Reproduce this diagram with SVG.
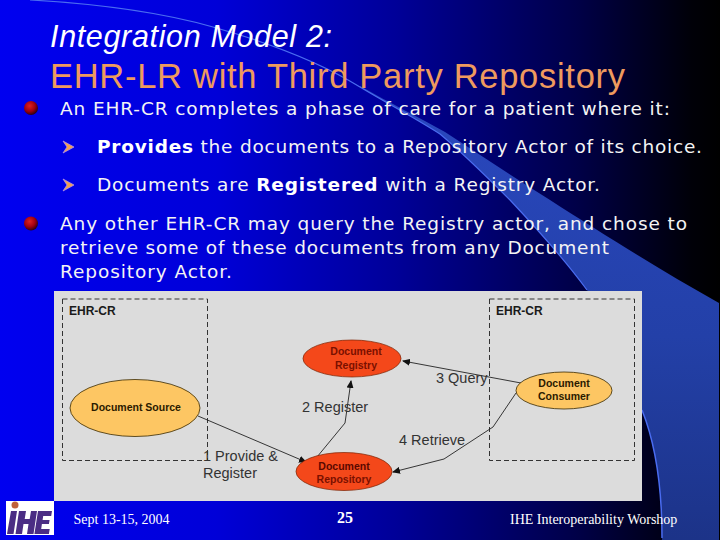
<svg xmlns="http://www.w3.org/2000/svg" width="720" height="540" viewBox="0 0 720 540">
<style>
.b{font-family:"DejaVu Sans",Verdana,sans-serif;font-size:18.500px;fill:#f4f4f4}
.bb{font-weight:bold;fill:#fff}
.f{font-family:"Liberation Serif",serif;font-size:14px;fill:#fff}
.lbl{font-family:"Liberation Sans",Arial,sans-serif;font-size:14.500px;fill:#333}
.nt{font-family:"Liberation Sans",Arial,sans-serif;font-size:10.500px;font-weight:bold;text-anchor:middle}
.hd{font-family:"Liberation Sans",Arial,sans-serif;font-size:12px;font-weight:bold;fill:#1a1a1a}
.box{fill:none;stroke:#333;stroke-width:1;stroke-dasharray:5 3}
.c{fill:none;stroke:#222;stroke-width:.9}
.red{fill:#f4481a;stroke:#7a2000;stroke-width:.7}
.or{fill:#fdc663;stroke:#3a2a00;stroke-width:.8}
.ar{fill:#f0a050;stroke:#b090e8;stroke-width:.8}
</style>
<defs>
<linearGradient id="bg" x1="0" x2="1" y1="0" y2="0">
<stop offset="0" stop-color="#0000f0"/><stop offset=".3" stop-color="#0000d8"/><stop offset=".55" stop-color="#000098"/><stop offset=".8" stop-color="#000048"/><stop offset=".96" stop-color="#000008"/><stop offset="1" stop-color="#000"/>
</linearGradient>
<linearGradient id="band" x1="0" x2="0" y1="0" y2="1"><stop offset="0" stop-color="#2a48c0"/><stop offset=".55" stop-color="#2340a8"/><stop offset="1" stop-color="#1c3388"/></linearGradient>
<radialGradient id="ball" cx=".4" cy=".35" r=".65"><stop offset="0" stop-color="#e02020"/><stop offset=".6" stop-color="#a00010"/><stop offset="1" stop-color="#300010"/></radialGradient>
<marker id="a" markerWidth="8" markerHeight="7" refX="7" refY="3.500" orient="auto" markerUnits="userSpaceOnUse"><path d="M0 0L8 3.500L0 7z" fill="#111"/></marker>
</defs>
<rect width="720" height="540" fill="url(#bg)"/>
<g id="swoosh">
<path d="M360 86C390 103 420 118 445 132C480 155 515 178 550 200C600 232 660 270 719 303V540H662C662 500 658 450 642 410C628 370 608 320 587 290C565 260 540 232 510 200C490 180 465 155 440 134C415 118 390 105 360 87Z" fill="url(#band)"/>
<path d="M30 0C100 4 160 12 213 27C270 43 320 62 360 87C390 105 415 118 440 134C465 155 490 180 510 200C540 232 565 260 587 290" fill="none" stroke="#4a6cf0" stroke-width="1.200"/>
<path d="M642 410C658 450 662 500 662 538" fill="none" stroke="#4a6cf0" stroke-width="1.500"/>
</g>
<g id="title">
<text x="50" y="47" font-family="Liberation Sans,Arial,sans-serif" font-size="30.500" font-style="italic" fill="#fff" textLength="282">Integration Model 2:</text>
<text x="50" y="88" font-family="Liberation Sans,Arial,sans-serif" font-size="34.500" fill="#ee9a5e" textLength="575">EHR-LR with Third Party Repository</text>
</g>
<g id="bullets">
<circle cx="31" cy="108" r="7" fill="url(#ball)"/>
<circle cx="31" cy="223.500" r="7" fill="url(#ball)"/>
<path class="ar" d="M63 141L74 147L63 153L67 147Z"/>
<path class="ar" d="M63 179L74 185L63 191L67 185Z"/>
<text class="b" x="60" y="115" textLength="610">An EHR-CR completes a phase of care for a patient where it:</text>
<text class="b" x="97" y="153" textLength="605"><tspan class="bb">Provides</tspan> the documents to a Repository Actor of its choice.</text>
<text class="b" x="97" y="191" textLength="503">Documents are <tspan class="bb">Registered</tspan> with a Registry Actor.</text>
<text class="b" x="60" y="230" textLength="627">Any other EHR-CR may query the Registry actor, and chose to</text>
<text class="b" x="60" y="254" textLength="549">retrieve some of these documents from any Document</text>
<text class="b" x="60" y="278" textLength="172">Repository Actor.</text>
</g>
<rect id="panel" x="54" y="291" width="588" height="210" fill="#dcdcdc"/>
<g id="ehr-cr-left"><rect class="box" x="62.500" y="299" width="145" height="161.500"/><text class="hd" x="69" y="315">EHR-CR</text></g>
<g id="ehr-cr-right"><rect class="box" x="489.500" y="299" width="145" height="161.500"/><text class="hd" x="496" y="315">EHR-CR</text></g>
<g id="connectors">
<path class="c" marker-end="url(#a)" d="M198 416L306 462"/>
<path class="c" marker-end="url(#a)" d="M317 457L345 423L351 381"/>
<path class="c" marker-end="url(#a)" d="M521 383L403 361"/>
<path class="c" marker-end="url(#a)" d="M516 393L493 427L444 459L393 472"/>
</g>
<g id="document-source"><ellipse class="or" cx="135" cy="408" rx="65" ry="28.500"/><text class="nt" x="136" y="411" fill="#2a1a00">Document Source</text></g>
<g id="document-registry"><ellipse class="red" cx="352" cy="358.500" rx="49" ry="18.500"/><text class="nt" x="356" y="355" fill="#7a1000">Document</text><text class="nt" x="356" y="369" fill="#7a1000">Registry</text></g>
<g id="document-repository"><ellipse class="red" cx="344" cy="471.500" rx="48" ry="19"/><text class="nt" x="344" y="470" fill="#5a0800">Document</text><text class="nt" x="344" y="483" fill="#7a1000">Repository</text></g>
<g id="document-consumer"><ellipse class="or" cx="564" cy="390.500" rx="48" ry="18.500"/><text class="nt" x="564" y="387" fill="#2a1a00">Document</text><text class="nt" x="564" y="400" fill="#2a1a00">Consumer</text></g>
<g id="labels">
<text class="lbl" x="203" y="461">1 Provide &amp;</text>
<text class="lbl" x="203" y="478">Register</text>
<text class="lbl" x="302" y="412">2 Register</text>
<text class="lbl" x="436" y="383">3 Query</text>
<text class="lbl" x="399" y="445">4 Retrieve</text>
</g>
<g id="logo">
<rect x="6" y="501" width="48" height="34" fill="#fff"/>
<circle cx="15" cy="505" r="3.500" fill="#c0603a"/>
<path fill="#4b2d84" d="M11 511h6l-3.500 23h-6.500zM19 511h7l-1.300 8h5l1.300-8h6l-3.500 23h-6.500l1.500-10h-5l-1.500 10h-6.500zM38 511h14l-.8 5h-8l-.6 4h7l-.7 4h-7l-.7 5h8.500l-.8 5h-14.500z"/>
</g>
<g id="footer">
<text class="f" x="73.500" y="524">Sept 13-15, 2004</text>
<text x="345" y="523" text-anchor="middle" font-family="Liberation Serif,serif" font-size="16" font-weight="bold" fill="#fff">25</text>
<text class="f" x="510" y="524">IHE Interoperability Worshop</text>
</g>
</svg>
